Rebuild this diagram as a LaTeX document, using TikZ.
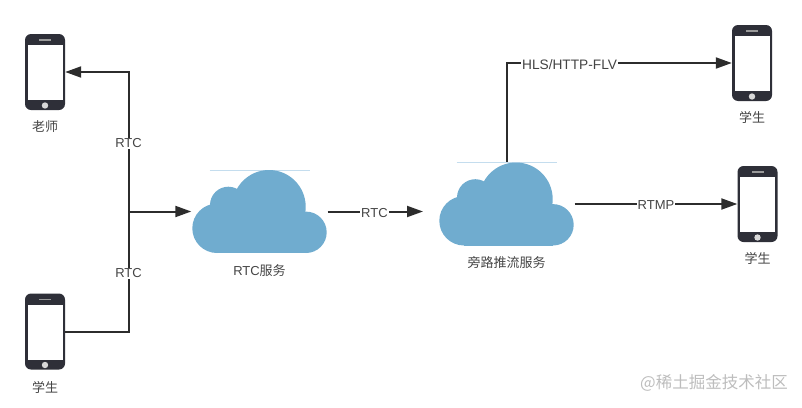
\documentclass[tikz,border=0pt]{standalone}
\usepackage{fontspec}
\setmainfont{Liberation Sans}
\newfontfamily\cjk{Noto Sans CJK SC}
\usepackage{xcolor}
\usetikzlibrary{arrows.meta, positioning}
\definecolor{phonebody}{HTML}{2E2F38}
\definecolor{phonekey}{HTML}{D8D8D8}
\definecolor{phonespeaker}{HTML}{9A9A9A}
\definecolor{cloudblue}{HTML}{70ACCF}
\definecolor{cloudedge}{HTML}{C4DDEE}
\definecolor{linedark}{HTML}{2C2C2C}
\definecolor{textgray}{HTML}{444444}
\definecolor{markgray}{HTML}{BDBDBD}

\begin{document}
\begin{tikzpicture}[
        x=1pt, y=-1pt,
        node distance=10pt,
        phone/.style={fill=phonebody, rounded corners=6pt, minimum width=40pt, minimum height=76pt, inner sep=0pt,
            path picture={
                \begin{scope}[shift={(path picture bounding box.center)}, sharp corners]
                    \fill[white] (-17.5,-27) rectangle (17.5,28);
                    \fill[phonespeaker] (-6,-32.8) rectangle (6,-31.2);
                    \fill[phonekey] (0,33.5) circle[radius=3.2pt];
                \end{scope}
            }},
        cloudbox/.style={minimum width=136pt, minimum height=84pt, inner sep=0pt,
            path picture={
                \begin{scope}[shift={(path picture bounding box.center)}]
                    \draw[cloudedge, line width=1pt] (-50,-41.5) -- (50,-41.5);
                    \fill[cloudblue] (9.5,-4.8) circle[radius=36.7pt];
                    \fill[cloudblue] (-31.2,-6.5) circle[radius=18.3pt];
                    \fill[cloudblue] (-42.5,16.8) circle[radius=24.7pt];
                    \fill[cloudblue] (46.5,20.8) circle[radius=20.7pt];
                    \fill[cloudblue] (-42.5,0) rectangle (46.5,41.5);
                \end{scope}
            }},
        caption/.style={font=\fontsize{13pt}{15pt}\selectfont, text=textgray, inner sep=0pt},
        edgelabel/.style={font=\fontsize{13pt}{15pt}\selectfont, text=textgray, fill=white, inner xsep=1pt, inner ysep=1pt, yshift=-1.5pt},
        link/.style={draw=linedark, line width=2pt},
        arrow/.style={link, -{Triangle[length=16pt, width=11pt]}}
    ]
        \useasboundingbox (0,0) rectangle (802,407);

        % phones
        \node[phone] (teacher) at (45,72) {};
        \node[phone] (studentA) at (45,331.5) {};
        \node[phone] (studentB) at (752,63) {};
        \node[phone] (studentC) at (757.5,204) {};
        \node[caption, below=of teacher] (teacherText) {\cjk 老师};
        \node[caption, below=12pt of studentA] (studentAText) {\cjk 学生};
        \node[caption, below=of studentB] (studentBText) {\cjk 学生};
        \node[caption, below=of studentC] (studentCText) {\cjk 学生};

        % clouds
        \node[cloudbox] (rtc) at (259.5,211.5) {};
        \node[cloudbox] (relay) at (506.5,204) {};
        \node[caption, below=11pt of rtc] (rtcText) {RTC{\cjk 服务}};
        \node[caption, below=of relay] (relayText) {\cjk 旁路推流服务};

        % connectors
        \coordinate (junction) at (128.5,211.5);
        \coordinate (relayIn) at (423,211.5);
        \draw[link] (studentA.east) -| (junction);
        \draw[arrow] (junction) |- (teacher.east);
        \draw[arrow] (junction) -- (rtc.west);
        \draw[arrow] (rtc.east) -- node[edgelabel, pos=0.49] (rtcC) {RTC} (relayIn);
        \draw[arrow] (relay.north) |- node[edgelabel, pos=0.64, font=\fontsize{13.7pt}{15pt}\selectfont] (hls) {HLS/HTTP-FLV} (studentB.west);
        \draw[arrow] (relay.east) -- node[edgelabel] (rtmp) {RTMP} (studentC.west);
        \node[edgelabel] (rtcA) at (128.5,142) {RTC};
        \node[edgelabel] (rtcB) at (128.5,272) {RTC};

        \node[font=\fontsize{16.5pt}{18pt}\cjk, text=markgray, inner sep=0pt, anchor=east] (watermark) at (788,383) {@稀土掘金技术社区};
    \end{tikzpicture}
\end{document}
